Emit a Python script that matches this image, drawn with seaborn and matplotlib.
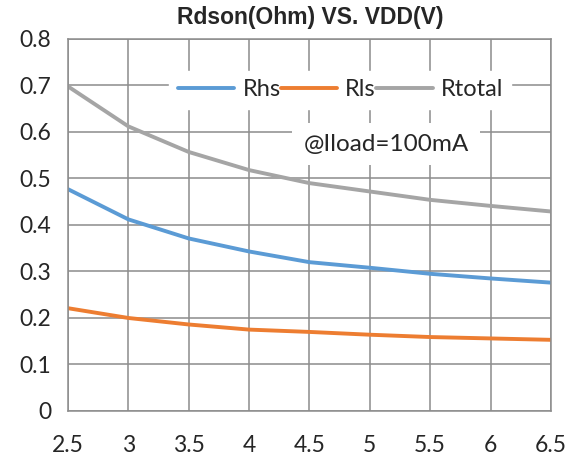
import matplotlib
matplotlib.use("Agg")
import matplotlib.pyplot as plt
import seaborn as sns
import pandas as pd

# data
vdd = [2.5, 3.0, 3.5, 4.0, 4.5, 5.0, 5.5, 6.0, 6.5]
rhs = [0.477, 0.412, 0.371, 0.343, 0.320, 0.308, 0.295, 0.285, 0.276]
rls = [0.221, 0.200, 0.186, 0.175, 0.170, 0.164, 0.159, 0.156, 0.153]
rtotal = [0.698, 0.612, 0.557, 0.518, 0.490, 0.472, 0.454, 0.441, 0.429]
series_names = ["Rhs", "Rls", "Rtotal"]
colors = ["#5B9BD5", "#ED7D31", "#A5A5A5"]
x_ticks = [2.5, 3, 3.5, 4, 4.5, 5, 5.5, 6, 6.5]
x_labels = ["2.5", "3", "3.5", "4", "4.5", "5", "5.5", "6", "6.5"]
y_ticks = [0, 0.1, 0.2, 0.3, 0.4, 0.5, 0.6, 0.7, 0.8]
y_labels = ["0", "0.1", "0.2", "0.3", "0.4", "0.5", "0.6", "0.7", "0.8"]

df = pd.DataFrame({"VDD": vdd, "Rhs": rhs, "Rls": rls, "Rtotal": rtotal})
long_df = df.melt(id_vars="VDD", var_name="series", value_name="Rdson")

sns.set_style("white")
plt.rcParams["font.family"] = ["Lato", "DejaVu Sans"]

fig = plt.figure(figsize=(5.76, 4.61), dpi=100)
ax = fig.add_axes([0.118, 0.1085, 0.8385, 0.807])

sns.lineplot(data=long_df, x="VDD", y="Rdson", hue="series",
             hue_order=series_names, palette=colors, linewidth=2.8, ax=ax)

ax.set_xlim(2.5, 6.5)
ax.set_ylim(0, 0.8)
ax.set_xticks(x_ticks)
ax.set_xticklabels(x_labels)
ax.set_yticks(y_ticks)
ax.set_yticklabels(y_labels)
ax.grid(True, color="#8C8C8C", linewidth=1.1)
ax.set_axisbelow(True)
for s in ax.spines.values():
    s.set_color("#8C8C8C")
    s.set_linewidth(1.1)
ax.tick_params(axis="y", length=8, width=1.1, color="#8C8C8C", labelsize=16.5, pad=4)
ax.tick_params(axis="x", length=0, labelsize=16.5, pad=17)
ax.set_xlabel("")
ax.set_ylabel("")

leg = ax.legend(loc="center", bbox_to_anchor=(0.564, 0.863), ncol=3,
                frameon=True, fontsize=17, handlelength=2.4, handletextpad=0.34,
                columnspacing=0.0, borderpad=0.35, borderaxespad=0)
leg.get_frame().set_facecolor("white")
leg.get_frame().set_edgecolor("white")
leg.get_frame().set_alpha(1)
leg.get_frame().set_boxstyle("square", pad=0)

ax.text(4.45, 0.574, "@Iload=100mA", fontsize=17.5, ha="left", va="center",
        bbox=dict(boxstyle="square,pad=0.45", fc="white", ec="none"))

fig.text(0.538, 0.961, "Rdson(Ohm) VS. VDD(V)", ha="center", va="center",
         fontsize=16.5, fontweight="bold", family=["Liberation Sans", "DejaVu Sans"])

fig.savefig("out.png", dpi=100)
